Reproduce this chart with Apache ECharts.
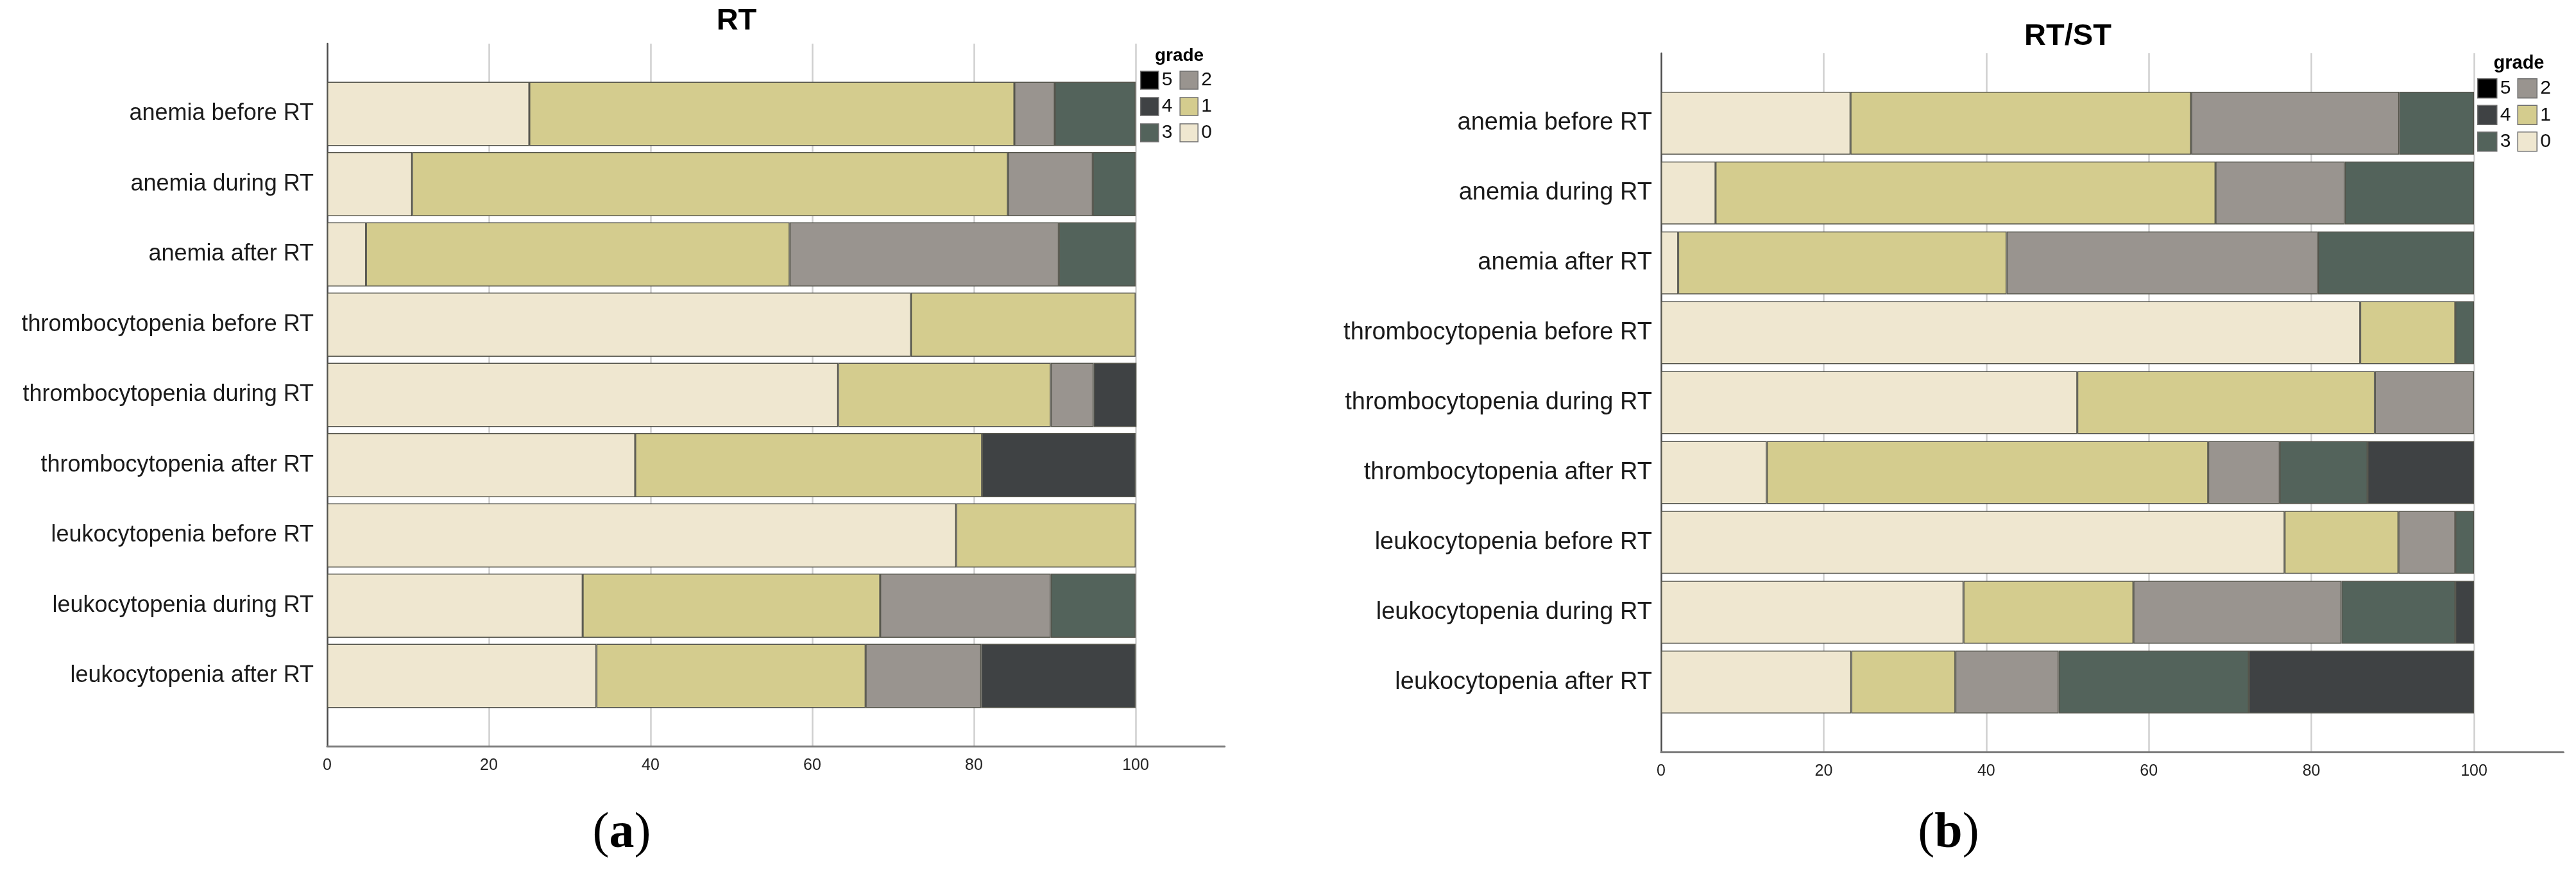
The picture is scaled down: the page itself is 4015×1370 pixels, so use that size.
<!DOCTYPE html>
<html>
<head>
<meta charset="utf-8">
<script src="https://cdn.jsdelivr.net/npm/echarts@6/dist/echarts.min.js"></script>
<style>
html,body{margin:0;padding:0;background:#fff;}
#c{width:4015px;height:1370px;}
</style>
</head>
<body>
<div id="c"></div>
<script>
// ---------- data ----------
const categories = [
  'anemia before RT', 'anemia during RT', 'anemia after RT',
  'thrombocytopenia before RT', 'thrombocytopenia during RT', 'thrombocytopenia after RT',
  'leukocytopenia before RT', 'leukocytopenia during RT', 'leukocytopenia after RT'
];
const grades = ['0', '1', '2', '3', '4', '5'];
const legendOrder = ['5', '4', '3', '2', '1', '0'];
const xTicks = [0, 20, 40, 60, 80, 100];

// Panel (a) RT : percent per grade
const rtGrade0 = [25.0, 10.5, 4.8, 72.2, 63.2, 38.1, 77.8, 31.6, 33.3];
const rtGrade1 = [60.0, 73.7, 52.4, 27.8, 26.3, 42.9, 22.2, 36.8, 33.3];
const rtGrade2 = [5.0, 10.5, 33.3, 0, 5.3, 0, 0, 21.1, 14.3];
const rtGrade3 = [10.0, 5.3, 9.5, 0, 0, 0, 0, 10.5, 0];
const rtGrade4 = [0, 0, 0, 0, 5.3, 19.0, 0, 0, 19.1];
const rtGrade5 = [0, 0, 0, 0, 0, 0, 0, 0, 0];

// Panel (b) RT/ST : percent per grade
const rtstGrade0 = [23.3, 6.7, 2.1, 86.0, 51.2, 13.0, 76.7, 37.2, 23.4];
const rtstGrade1 = [41.9, 61.5, 40.4, 11.7, 36.6, 54.3, 14.0, 20.9, 12.8];
const rtstGrade2 = [25.6, 15.9, 38.3, 0, 12.2, 8.8, 7.0, 25.6, 12.7];
const rtstGrade3 = [9.2, 15.9, 19.2, 2.3, 0, 10.8, 2.3, 14.0, 23.4];
const rtstGrade4 = [0, 0, 0, 0, 0, 13.1, 0, 2.3, 27.7];
const rtstGrade5 = [0, 0, 0, 0, 0, 0, 0, 0, 0];

const gradeColors = {
  '0': '#EFE7D0', '1': '#D4CC8E', '2': '#99948F',
  '3': '#53635B', '4': '#3F4244', '5': '#000000'
};

// ---------- build ----------
const sans = "'Liberation Sans',Arial,sans-serif";
const serif = "'Liberation Serif','Times New Roman',serif";

const padCats = [''].concat(categories).concat(['']);
function pad(arr) {
  return ['-'].concat(arr.map(v => (v === 0 ? '-' : v))).concat(['-']);
}

const panels = [
  { g: [rtGrade0, rtGrade1, rtGrade2, rtGrade3, rtGrade4, rtGrade5],
    grid: { left: 510, top: 68, width: 1398.6, height: 1095 }, barWidth: 100, labelMargin: 21, labelSize: 36 },
  { g: [rtstGrade0, rtstGrade1, rtstGrade2, rtstGrade3, rtstGrade4, rtstGrade5],
    grid: { left: 2589, top: 83, width: 1406.4, height: 1089 }, barWidth: 98, labelMargin: 14, labelSize: 38 }
];

const grid = [], xAxis = [], yAxis = [], series = [];
panels.forEach((p, i) => {
  grid.push(Object.assign({ containLabel: false, outerBoundsMode: 'none' }, p.grid));
  xAxis.push({
    type: 'value', gridIndex: i, min: 0, max: 111, interval: 20,
    axisLine: { show: true, lineStyle: { color: '#7a7a7a', width: 3 } },
    axisTick: { show: false },
    axisLabel: {
      show: true, showMaxLabel: false, margin: 18, fontSize: 25, color: '#222', fontFamily: sans,
      formatter: v => (xTicks.indexOf(v) >= 0 ? String(v) : '')
    },
    splitLine: { show: true, showMinLine: false, showMaxLine: false, lineStyle: { color: '#cfcfcf', width: 2.5 } }
  });
  yAxis.push({
    type: 'category', gridIndex: i, data: padCats, inverse: true, boundaryGap: false,
    axisLine: { show: true, lineStyle: { color: '#4a4a4a', width: 2.5 } },
    axisTick: { show: false },
    splitLine: { show: false },
    axisLabel: { show: true, margin: p.labelMargin, fontSize: p.labelSize, color: '#1a1a1a', fontFamily: sans, interval: 0 }
  });
  grades.forEach((gname, k) => {
    series.push({
      name: gname, type: 'bar', stack: 'panel' + i,
      xAxisIndex: i, yAxisIndex: i,
      barWidth: p.barWidth,
      data: pad(p.g[k]),
      itemStyle: { color: gradeColors[gname], borderColor: '#55554c', borderWidth: 1.5 },
      emphasis: { disabled: true },
      animation: false
    });
  });
});

function legendFor(left, top, sz, gap) {
  return {
    show: true, type: 'plain', orient: 'vertical', left: left, top: top,
    height: sz * 3 + gap * 2 + 20, padding: 0,
    itemWidth: sz, itemHeight: sz, itemGap: gap, icon: 'rect',
    selectedMode: false,
    data: legendOrder,
    itemStyle: { borderColor: '#6e6e6e', borderWidth: 1.5 },
    textStyle: { fontSize: 30, color: '#111', fontFamily: sans, width: 28, padding: [0, 0, 0, 0] }
  };
}

function panelLetter(letter, x) {
  return { text: '{p|(}{b|' + letter + '}{p|)}', left: x, top: 1300, textAlign: 'center', textVerticalAlign: 'middle', padding: 0,
    textStyle: { fontWeight: 'normal', rich: {
      p: { fontSize: 78, fontFamily: serif, fontWeight: 'normal', color: '#000' },
      b: { fontSize: 78, fontFamily: serif, fontWeight: 'bold', color: '#000' } } } };
}

const option = {
  backgroundColor: '#ffffff',
  animation: false,
  title: [
    { text: 'RT', left: 1148, top: 33, textAlign: 'center', textVerticalAlign: 'middle', padding: 0,
      textStyle: { fontSize: 47, fontWeight: 'bold', color: '#000', fontFamily: sans } },
    { text: 'RT/ST', left: 3223, top: 57, textAlign: 'center', textVerticalAlign: 'middle', padding: 0,
      textStyle: { fontSize: 47, fontWeight: 'bold', color: '#000', fontFamily: sans } },
    { text: 'grade', left: 1838, top: 87, textAlign: 'center', textVerticalAlign: 'middle', padding: 0,
      textStyle: { fontSize: 28, fontWeight: 'bold', color: '#000', fontFamily: sans } },
    { text: 'grade', left: 3926, top: 99, textAlign: 'center', textVerticalAlign: 'middle', padding: 0,
      textStyle: { fontSize: 29, fontWeight: 'bold', color: '#000', fontFamily: sans } },
    panelLetter('a', 969),
    panelLetter('b', 3037)
  ],
  legend: [legendFor(1777, 110, 28, 11), legendFor(3861, 122, 30, 10)],
  tooltip: { show: false },
  grid: grid,
  xAxis: xAxis,
  yAxis: yAxis,
  series: series
};

const chart = echarts.init(document.getElementById('c'), null, { renderer: 'canvas' });
chart.setOption(option);
</script>
</body>
</html>
